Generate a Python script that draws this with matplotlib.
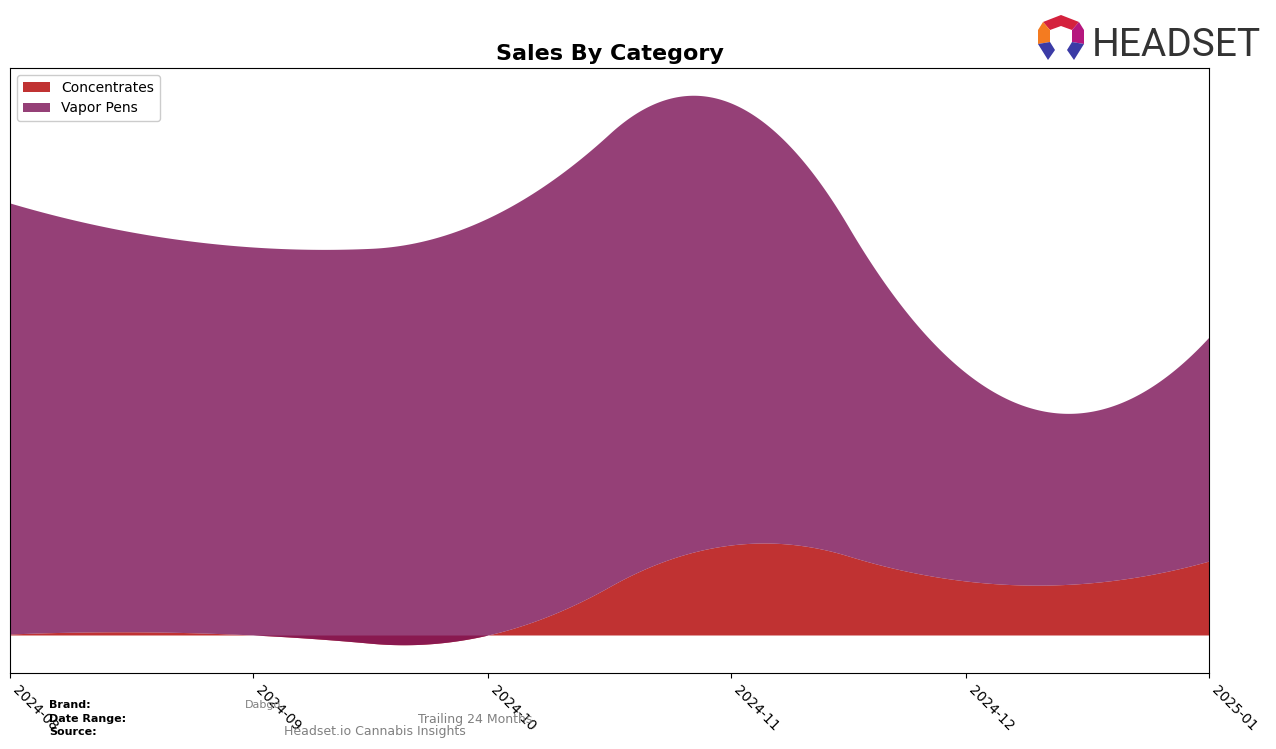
import numpy as np
import matplotlib
matplotlib.use("Agg")
import matplotlib.pyplot as plt
import matplotlib.dates as mdates
from matplotlib.patches import Polygon
import datetime as dt

months = ["2024-08", "2024-09", "2024-10", "2024-11", "2024-12", "2025-01"]
concentrates = [1, 0, 0, 90, 54, 74]
vapor_pens = [431, 388, 417, 442, 208, 224]
series_names = ["Concentrates", "Vapor Pens"]

W, H = 1276, 749
fig = plt.figure(figsize=(W / 100, H / 100), dpi=100)
ax = fig.add_axes([10 / W, 1 - 673 / H, (1209 - 10) / W, (673 - 68) / H])

xs = np.array([mdates.date2num(dt.datetime.strptime(m, "%Y-%m")) for m in months])


def bspline_basis(t, k, x):
    x = np.asarray(x, float)
    B = np.zeros((len(x), len(t) - 1))
    for i in range(len(t) - 1):
        B[:, i] = (t[i] <= x) & (x < t[i + 1])
    last = np.where(t < t[-1])[0][-1]
    at_end = x >= t[-1]
    B[at_end, :] = 0
    B[at_end, last] = 1
    for d in range(1, k + 1):
        Bn = np.zeros((len(x), len(t) - 1 - d))
        for i in range(len(t) - 1 - d):
            a = t[i + d] - t[i]
            b = t[i + d + 1] - t[i + 1]
            term = np.zeros(len(x))
            if a > 0:
                term += (x - t[i]) / a * B[:, i]
            if b > 0:
                term += (t[i + d + 1] - x) / b * B[:, i + 1]
            Bn[:, i] = term
        B = Bn
    return B


def smooth(xv, yv, xd, k=2):
    mids = (xv[1:] + xv[:-1]) / 2
    t = np.r_[[xv[0]] * (k + 1), mids[1:-1], [xv[-1]] * (k + 1)]
    A = bspline_basis(t, k, xv)
    c = np.linalg.solve(A, np.asarray(yv, float))
    return bspline_basis(t, k, xd) @ c


xd = np.linspace(xs[0], xs[-1], 800)
conc_s = smooth(xs, concentrates, xd)
vap_s = smooth(xs, vapor_pens, xd)

ax.fill_between(xd, 0, conc_s, color="#c03232", lw=0, label=series_names[0])
ax.fill_between(xd, conc_s, conc_s + vap_s, color="#7d1458", alpha=0.81, lw=0,
                label=series_names[1])

ax.set_xlim(xs[0], xs[-1])
ax.set_ylim(-38, 567)
ax.set_yticks([])
ax.set_xticks(xs)
ax.set_xticklabels(months, rotation=-45, ha="left", fontsize=10)
for sp in ax.spines.values():
    sp.set_color("black")

ax.set_title("Sales By Category", fontsize=16, fontweight="bold", pad=6)
ax.legend(loc="upper left", fontsize=10, framealpha=1)

# footer
fig.text(49 / W, 1 - 705 / H, "Brand:", fontsize=8, fontweight="bold", va="center")
fig.text(49 / W, 1 - 719 / H, "Date Range:", fontsize=8, fontweight="bold", va="center")
fig.text(49 / W, 1 - 732 / H, "Source:", fontsize=8, fontweight="bold", va="center")
fig.text(245 / W, 1 - 705 / H, "Dabgo", fontsize=8, color="gray", va="center")
fig.text(418 / W, 1 - 719 / H, "Trailing 24 Months", fontsize=9, color="gray", va="center")
fig.text(284 / W, 1 - 732 / H, "Headset.io Cannabis Insights", fontsize=9, color="gray", va="center")

# logo
def px(pts):
    return [(x / W, 1 - y / H) for x, y in pts]

logo_parts = [
    ([(1043, 22), (1061, 15), (1079, 22), (1072, 30), (1061, 26), (1050, 30)], "#d4213d"),
    ([(1043, 22), (1050, 30), (1050, 42), (1038, 44), (1038, 30)], "#f47b20"),
    ([(1079, 22), (1084, 30), (1084, 44), (1072, 42), (1072, 30)], "#b5177e"),
    ([(1038, 44), (1050, 42), (1055, 50), (1048, 60)], "#3b3ba6"),
    ([(1084, 44), (1072, 42), (1067, 50), (1074, 60)], "#3b3ba6"),
]
for pts, col in logo_parts:
    fig.patches.append(Polygon(px(pts), closed=True, color=col, transform=fig.transFigure, lw=0))
fig.text(1092 / W, 1 - 56 / H, "HEADSET", fontsize=28, color="#333333",
         family=["Roboto", "DejaVu Sans"], va="baseline", ha="left")

fig.savefig("out.png", dpi=100)
